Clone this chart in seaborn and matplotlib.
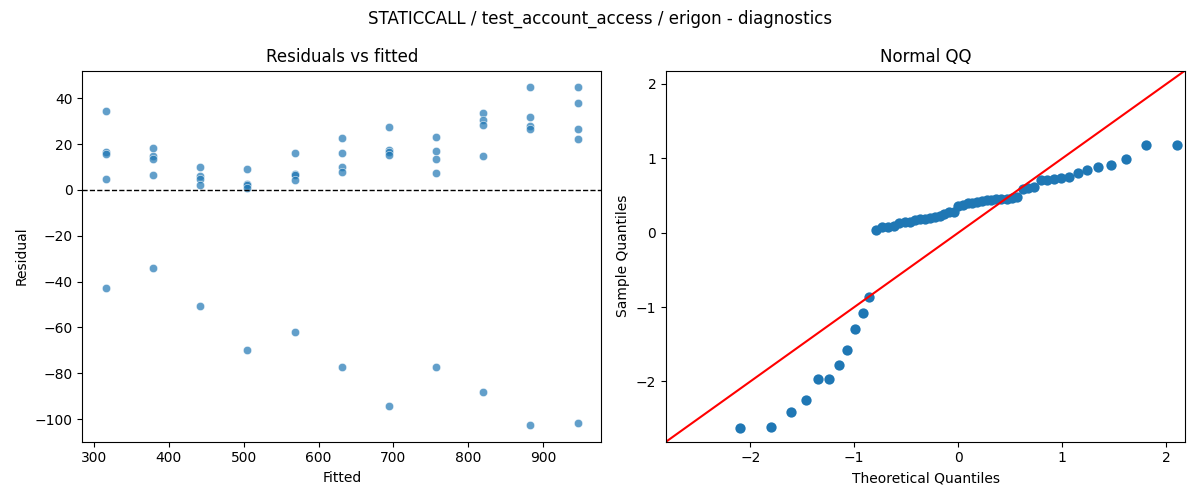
import numpy as np
import pandas as pd
import seaborn as sns
import matplotlib
matplotlib.use("Agg")
import matplotlib.pyplot as plt
from statistics import NormalDist

# fitted value of each group (11 groups, 5 runs each)
fitted_levels = [316, 379, 442, 505, 568, 631, 694, 757, 820, 883, 946]

# residuals, one list per fitted level
residual_groups = [
    [34.4, 16.6, 15.8, 4.8, -42.8],
    [18.1, 14.7, 13.4, 6.4, -34.1],
    [9.9, 6.1, 4.9, 2.3, -50.7],
    [9.0, 2.8, 2.0, 0.8, -69.8],
    [16.1, 7.0, 6.5, 4.2, -62.0],
    [22.5, 16.1, 10.0, 7.7, -77.2],
    [27.3, 17.4, 16.7, 15.2, -94.2],
    [22.9, 16.8, 13.6, 7.3, -77.2],
    [33.7, 30.5, 28.2, 14.8, -88.1],
    [44.7, 31.7, 27.9, 26.7, -102.5],
    [44.7, 37.8, 26.6, 22.1, -101.9],
]

title = "STATICCALL / test_account_access / erigon - diagnostics"


def plot_diagnostics():
    rows = []
    for f, group in zip(fitted_levels, residual_groups):
        for r in group:
            rows.append({"Fitted": f, "Residual": r})
    df = pd.DataFrame(rows)

    fig, (ax1, ax2) = plt.subplots(1, 2, figsize=(12, 5), dpi=100)

    # residuals vs fitted
    sns.scatterplot(data=df, x="Fitted", y="Residual", alpha=0.7, ax=ax1)
    ax1.axhline(0, color="black", linestyle="--", linewidth=1)
    ax1.set_title("Residuals vs fitted")

    # normal QQ of standardized residuals
    res = np.sort(df["Residual"].to_numpy())
    n = len(res)
    z = (res - res.mean()) / res.std()
    nd = NormalDist()
    theo = np.array([nd.inv_cdf(i / (n + 1)) for i in range(1, n + 1)])
    qq = pd.DataFrame({"Theoretical Quantiles": theo, "Sample Quantiles": z})
    sns.scatterplot(data=qq, x="Theoretical Quantiles", y="Sample Quantiles",
                    color="#1f77b4", s=55, linewidth=0, ax=ax2)
    lo, hi = -2.81, 2.18
    ax2.plot([lo, hi], [lo, hi], color="red", linewidth=1.5)
    ax2.set_xlim(lo, hi)
    ax2.set_ylim(lo, hi)
    ax2.set_title("Normal QQ")

    fig.suptitle(title)
    fig.tight_layout()
    fig.savefig("out.png")


if __name__ == "__main__":
    plot_diagnostics()
